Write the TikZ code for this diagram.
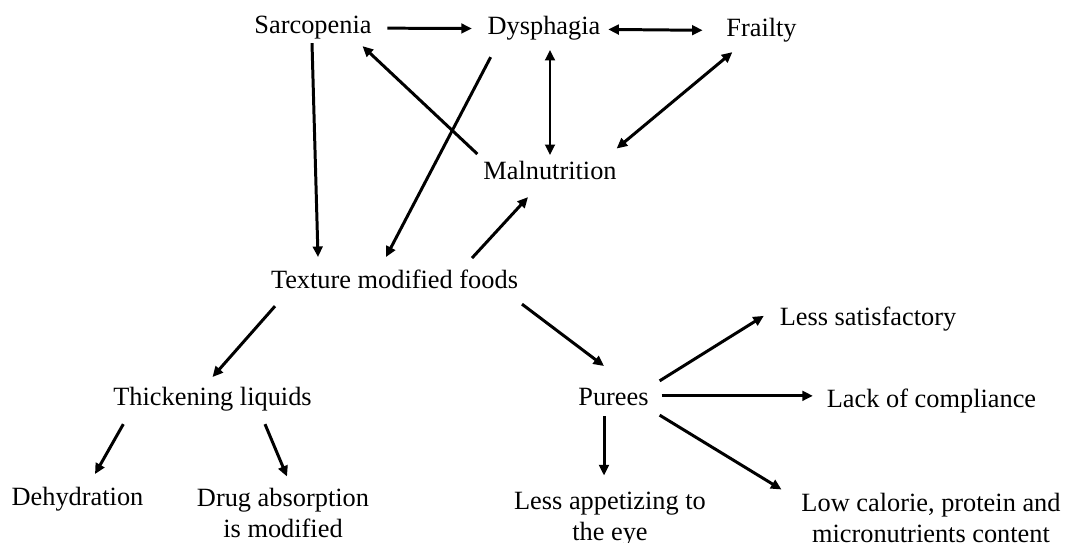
\documentclass[tikz,border=0pt]{standalone}
\usepackage{fontspec}
\setmainfont{Liberation Serif}
\usetikzlibrary{arrows.meta}

\tikzset{
    lbl/.style={anchor=base, inner sep=0pt, outer sep=0pt, text height=10.5pt, text depth=3.5pt, font=\fontsize{15}{17.6}\selectfont},
    lbltwo/.style={anchor=north, inner sep=0pt, outer sep=0pt, align=center, font=\fontsize{15}{17.6}\selectfont},
    arr/.style={line width=1.7pt, -{Triangle[length=6pt,width=5.5pt]}},
    darr/.style={line width=1.7pt, {Triangle[length=6pt,width=5.5pt]}-{Triangle[length=6pt,width=5.5pt]}}
}

\begin{document}
\begin{tikzpicture}[x=0.02cm, y=-0.02cm]
        \useasboundingbox (0,0) rectangle (1065,543);

        % Top row
        \node[lbl] (sarc) at (313,34) {Sarcopenia};
        \node[lbl] (dys) at (544,35) {Dysphagia};
        \node[lbl] (frail) at (761.5,37) {Frailty};
        \node[lbl] (mal) at (550,180) {Malnutrition};

        % Middle
        \node[lbl] (tex) at (394.5,289) {Texture modified foods};
        \node[lbl] (thick) at (212.5,406) {Thickening liquids};
        \node[lbl] (puree) at (613.5,406) {Purees};
        \node[lbl] (lsat) at (868,326) {Less satisfactory};
        \node[lbl] (lack) at (931.5,408) {Lack of compliance};

        % Bottom row
        \node[lbl] (dehyd) at (77.5,506) {Dehydration};
        \node[lbltwo] (drug) at (283,488) {Drug absorption\\is modified};
        \node[lbltwo] (lapp) at (610,492) {Less appetizing to\\the eye};
        \node[lbltwo] (low) at (931,493) {Low calorie, protein and\\micronutrients content};

        % Links between the conditions
        \draw[arr, shorten <=9pt, shorten >=9pt] (sarc) -- (dys);
        \draw[darr, shorten <=4.5pt, shorten >=13.5pt] (dys) -- (frail);
        \draw[darr, shorten <=5pt, shorten >=3.7pt] (mal.north |- dys.south) -- (mal.north);
        \draw[darr] ([shift={(6,9)}]frail.south west) -- ([shift={(0,-13)}]mal.north east);
        \draw[arr] ([shift={(-6,-7.5)}]mal.north west) -- ([shift={(-9,6)}]sarc.south east);
        \draw[arr] ([shift={(3,16)}]dys.south west) -- ([shift={(-8.5,-13.5)}]tex.north);
        \draw[arr] ([shift={(-1,3)}]sarc.south) -- ([shift={(47,-13.5)}]tex.north west);
        \draw[arr] ([shift={(77.5,-12.5)}]tex.north) -- ([shift={(-22,11)}]mal.south);

        % Texture modified foods and what follows
        \draw[arr] ([shift={(4,11)}]tex.south west) -- ([shift={(0,-10.5)}]thick.north);
        \draw[arr] ([shift={(4,9)}]tex.south east) -- ([shift={(-9.5,-21.5)}]puree.north);
        \draw[arr] ([shift={(10,12)}]thick.south west) -- ([shift={(17.5,-13.5)}]dehyd.north);
        \draw[arr] ([shift={(52.5,12)}]thick.south) -- ([shift={(4,-11.5)}]drug.north);
        \draw[arr] ([shift={(11,-19)}]puree.east) -- ([shift={(-16,-4)}]lsat.west);
        \draw[arr] ([shift={(13,-4)}]puree.east) -- ([shift={(-14,-6)}]lack.west);
        \draw[arr] ([shift={(-9.5,4)}]puree.south) -- ([shift={(-6,-16.5)}]lapp.north);
        \draw[arr] ([shift={(11,3)}]puree.south east) -- ([shift={(-20,-3.5)}]low.north west);
    \end{tikzpicture}
\end{document}
